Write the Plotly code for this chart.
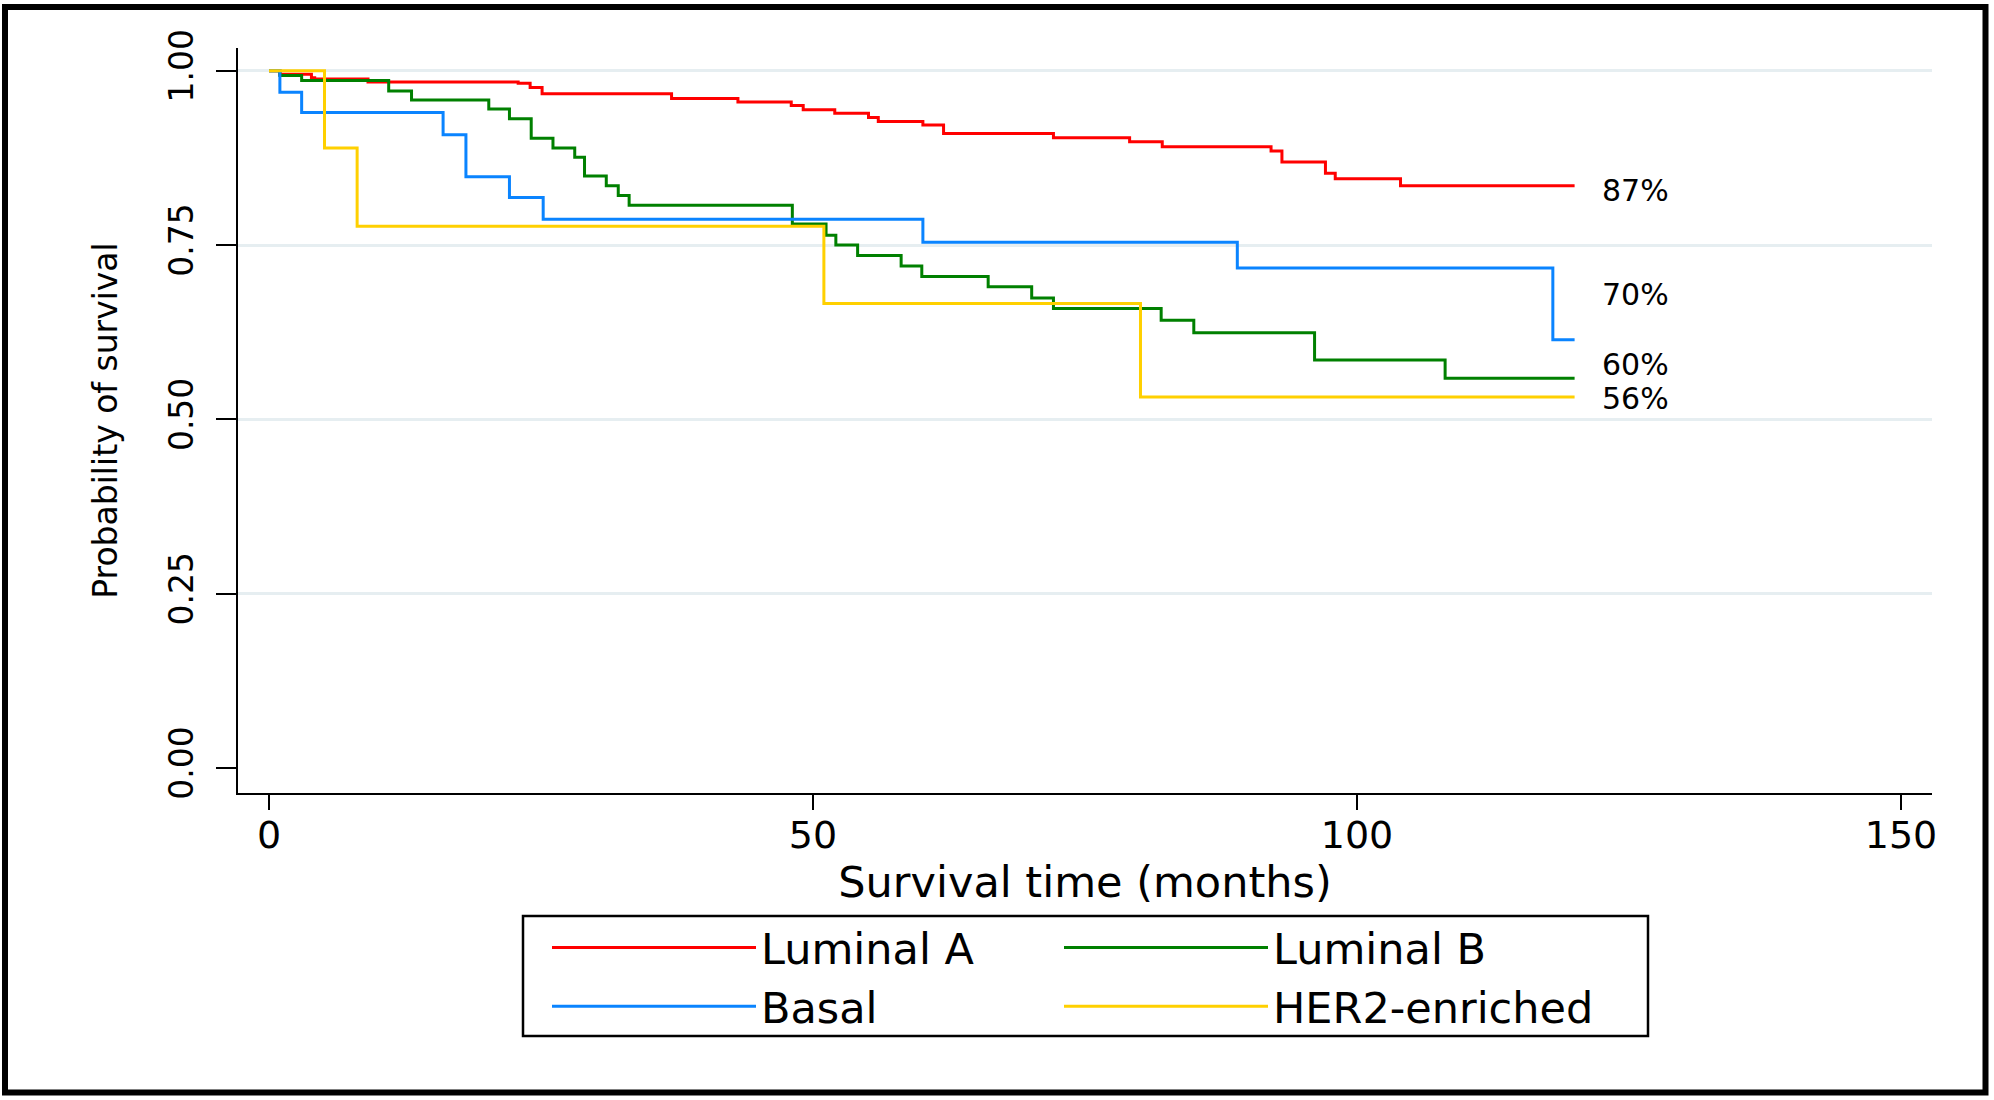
import plotly.graph_objects as go

# ---------------- data ----------------
groups = ["Luminal A", "Luminal B", "Basal", "HER2-enriched"]
colors = ["#FF0000", "#008000", "#0A84FF", "#FFD000"]

lumA_t = [0, 1.0, 3.9, 4.2, 9.1, 22.9, 24.0, 25.1, 37.0, 43.1, 48.0, 49.1, 52.0,
          55.1, 56.0, 60.1, 62.0, 72.1, 79.1, 82.1, 92.1, 93.1, 97.1, 98.0, 104.0, 120]
lumA_s = [1, 0.995, 0.990, 0.988, 0.984, 0.982, 0.976, 0.967, 0.960, 0.955, 0.950, 0.944, 0.939,
          0.933, 0.927, 0.922, 0.910, 0.904, 0.898, 0.891, 0.885, 0.869, 0.853, 0.845, 0.835, 0.835]

lumB_t = [0, 1.0, 3.0, 11.0, 13.1, 20.2, 22.1, 24.1, 26.1, 28.1, 29.0, 31.0, 32.1, 33.1,
          48.1, 51.2, 52.1, 54.1, 58.1, 60.0, 66.1, 70.1, 72.1, 82.0, 85.0, 96.1, 108.1, 120]
lumB_s = [1, 0.993, 0.986, 0.971, 0.958, 0.945, 0.931, 0.903, 0.889, 0.876, 0.849, 0.835, 0.821, 0.807,
          0.780, 0.764, 0.750, 0.735, 0.720, 0.705, 0.690, 0.674, 0.659, 0.642, 0.624, 0.585, 0.559, 0.559]

basal_t = [0, 1.0, 3.0, 16.0, 18.1, 22.1, 25.2, 60.1, 89.0, 118.0, 120]
basal_s = [1, 0.969, 0.940, 0.908, 0.848, 0.818, 0.787, 0.754, 0.717, 0.614, 0.614]

her2_t = [0, 5.1, 8.1, 51.0, 80.1, 120]
her2_s = [1, 0.889, 0.777, 0.666, 0.532, 0.532]

label_text = ["87%", "70%", "60%", "56%"]
label_y = [0.828, 0.679, 0.579, 0.530]
label_x = 122.3

x_ticks = [0, 50, 100, 150]
y_ticks = [0, 0.25, 0.5, 0.75, 1.0]
y_grid = [0.25, 0.5, 0.75, 1.0]

# ---------------- layout constants (pixels) ----------------
W, H = 1994, 1100
ML, MR, MT, MB = 238, 62, 48, 307
PW, PH = W - ML - MR, H - MT - MB
FONT = "DejaVu Sans"


def px_x(X):
    return (X - ML) / PW


def px_y(Y):
    return (H - MB - Y) / PH


series = [(lumA_t, lumA_s, "legend"), (lumB_t, lumB_s, "legend2"),
          (basal_t, basal_s, "legend"), (her2_t, her2_s, "legend2")]

fig = go.Figure()
for name, col, (t, s, lg) in zip(groups, colors, series):
    fig.add_trace(go.Scatter(
        x=t, y=s, mode="lines", name=name, legend=lg,
        line=dict(color=col, width=3, shape="hv"),
        hoverinfo="x+y+name",
    ))

for txt, yv in zip(label_text, label_y):
    fig.add_annotation(x=label_x, y=yv, xref="x", yref="y", text=txt,
                       showarrow=False, xanchor="left", yanchor="middle",
                       font=dict(family=FONT, size=30, color="black"))

legend_common = dict(
    orientation="v", bgcolor="rgba(0,0,0,0)", borderwidth=0,
    font=dict(family=FONT, size=43, color="black"),
    itemwidth=204, xanchor="left", yanchor="top", tracegroupgap=0,
    itemclick=False, itemdoubleclick=False,
)

fig.update_layout(
    width=W, height=H,
    margin=dict(l=ML, r=MR, t=MT, b=MB, autoexpand=False),
    paper_bgcolor="white", plot_bgcolor="white",
    font=dict(family=FONT, color="black"),
    showlegend=True,
    legend=dict(x=px_x(547), y=px_y(913), **legend_common),
    legend2=dict(x=px_x(1059), y=px_y(913), **legend_common),
    xaxis=dict(
        range=[-2.85, 152.85], tickvals=x_ticks, ticks="outside", ticklen=15,
        tickwidth=2, tickcolor="black", showline=True, linecolor="black", linewidth=2,
        showgrid=False, zeroline=False, automargin=False, ticklabelstandoff=-8,
        tickfont=dict(family=FONT, size=38, color="black"),
        title=dict(text="Survival time (months)", standoff=6,
                   font=dict(family=FONT, size=43, color="black")),
    ),
    yaxis=dict(
        range=[-0.036, 1.0326], tickvals=y_ticks, tickformat=".2f", tickangle=-90,
        ticks="outside", ticklen=20, tickwidth=2, tickcolor="black",
        showline=True, linecolor="black", linewidth=2,
        showgrid=False, zeroline=False, automargin=False, ticklabelstandoff=10,
        tickfont=dict(family=FONT, size=33, color="black"),
        minor=dict(tickvals=y_grid, showgrid=True, gridcolor="#E6EEF1", gridwidth=3, ticks=""),
        title=dict(text="Probability of survival", standoff=34,
                   font=dict(family=FONT, size=33, color="black")),
    ),
    shapes=[
        dict(type="rect", xref="paper", yref="paper",
             x0=px_x(523), x1=px_x(1648), y0=px_y(1036), y1=px_y(916),
             line=dict(color="black", width=2.5), fillcolor="rgba(0,0,0,0)", layer="above"),
        dict(type="rect", xref="paper", yref="paper",
             x0=px_x(5), x1=px_x(1985.5), y0=px_y(1092.5), y1=px_y(7),
             line=dict(color="black", width=6), fillcolor="rgba(0,0,0,0)", layer="above"),
    ],
)

fig.write_html("out.html", config={"displayModeBar": False},
               post_script="document.body.style.margin='0';")
